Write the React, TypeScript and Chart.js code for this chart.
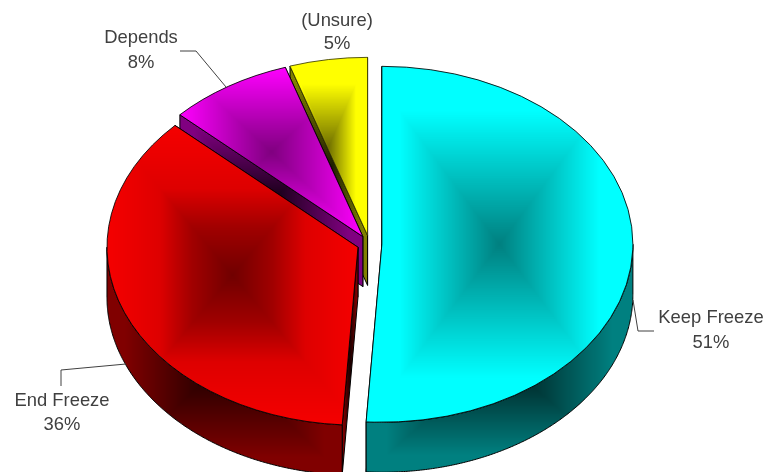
import React, { useEffect, useRef } from "react";
import { Chart, registerables } from "chart.js";

Chart.register(...registerables);

// ---- data ----
const categories = ["Keep Freeze", "End Freeze", "Depends", "(Unsure)"];
const shares = [51, 36, 8, 5];
const sliceColors: number[][] = [
  [0, 255, 255],
  [255, 0, 0],
  [255, 0, 255],
  [255, 255, 0],
];
const borderColors = ["#000000", "#000000", "#000000", "#3c3c00"];
// brightness of each top face from gradient centre (0) to its box edge (1)
const topCurves: number[][][] = [
  [[0, 0.5], [0.75, 1], [1, 1]],
  [[0, 0.44], [0.32, 0.63], [0.58, 0.87], [0.8, 0.92], [1, 0.96]],
  [[0, 0.5], [0.4, 0.7], [1, 1]],
  [[0, 0.44], [0.7, 1], [1, 1]],
];

// ---- styling ----
const W = 765;
const H = 472;
const RADIUS = 251;
const TILT = 0.709;
const DEPTH = 50;
const EXPLODE = 12.4;
const PAD_RIGHT = 26;
const PAD_TOP = 16;
const INK = "#404040";
const FONT = '18.4px "Liberation Sans", Arial, sans-serif';
const labelSpots = [
  { x: 711, y1: 318, y2: 343 },
  { x: 62, y1: 401, y2: 425 },
  { x: 141, y1: 38, y2: 63 },
  { x: 337, y1: 21, y2: 44 },
];
const leaders: number[][][] = [
  [[633, 300], [638, 331], [654, 331]],
  [[126, 364], [61, 370], [61, 386]],
  [[180, 51], [196, 51], [226, 87]],
  [],
];

type Box = { x0: number; y0: number; x1: number; y1: number };

function boxOf(pts: number[][]): Box {
  const xs = pts.map((p) => p[0]);
  const ys = pts.map((p) => p[1]);
  return { x0: Math.min(...xs), y0: Math.min(...ys), x1: Math.max(...xs), y1: Math.max(...ys) };
}

function curveAt(curve: number[][], t: number): number {
  if (t >= 1) return curve[curve.length - 1][1];
  for (let i = 1; i < curve.length; i++) {
    const [a, fa] = curve[i - 1];
    const [b, fb] = curve[i];
    if (t <= b) return fa + ((fb - fa) * (t - a)) / (b - a);
  }
  return curve[curve.length - 1][1];
}

// Rectangular "path gradient": darkest at box centre, base colour at its edge.
function boxPattern(box: Box, color: number[], shade: (t: number) => number): CanvasPattern {
  const m = 3;
  const w = Math.ceil(box.x1 - box.x0) + 2 * m;
  const h = Math.ceil(box.y1 - box.y0) + 2 * m;
  const c = document.createElement("canvas");
  c.width = w;
  c.height = h;
  const g = c.getContext("2d")!;
  const img = g.createImageData(w, h);
  const mx = (box.x0 + box.x1) / 2;
  const my = (box.y0 + box.y1) / 2;
  const hw = Math.max((box.x1 - box.x0) / 2, 1);
  const hh = Math.max((box.y1 - box.y0) / 2, 1);
  const ox = box.x0 - m;
  const oy = box.y0 - m;
  for (let j = 0; j < h; j++) {
    for (let i = 0; i < w; i++) {
      const t = Math.max(Math.abs(i + ox + 0.5 - mx) / hw, Math.abs(j + oy + 0.5 - my) / hh);
      const f = shade(t);
      const k = (j * w + i) * 4;
      img.data[k] = color[0] * f;
      img.data[k + 1] = color[1] * f;
      img.data[k + 2] = color[2] * f;
      img.data[k + 3] = 255;
    }
  }
  g.putImageData(img, 0, 0);
  const p = g.createPattern(c, "no-repeat")!;
  p.setTransform(new DOMMatrix().translate(ox, oy));
  return p;
}

const wallShade = (t: number) => Math.min(1, 0.15 + t);

function sliceAngles(): number[][] {
  const total = shares.reduce((a, b) => a + b, 0);
  let a = -Math.PI / 2;
  return shares.map((v) => {
    const s = a;
    a += (v / total) * Math.PI * 2;
    return [s, a];
  });
}

function topPatterns(cx: number, cy: number): CanvasPattern[] {
  return sliceAngles().map(([a0, a1], i) => {
    const pts: number[][] = [[cx, cy]];
    for (let a = a0; a <= a1 + 1e-6; a += (a1 - a0) / 360) {
      pts.push([cx + RADIUS * Math.cos(a), cy + RADIUS * Math.sin(a)]);
    }
    return boxPattern(boxOf(pts), sliceColors[i], (t) => curveAt(topCurves[i], t));
  });
}

function fillWall(ctx: CanvasRenderingContext2D, pts: number[][], color: number[]) {
  const half = color.map((v) => Math.round(v * 0.5));
  ctx.beginPath();
  pts.forEach((p, i) => (i ? ctx.lineTo(p[0], p[1]) : ctx.moveTo(p[0], p[1])));
  ctx.closePath();
  ctx.fillStyle = boxPattern(boxOf(pts), half, wallShade);
  ctx.fill();
  ctx.lineWidth = 1;
  ctx.strokeStyle = "#000";
  ctx.lineJoin = "round";
  ctx.stroke();
}

const pie3d = {
  id: "pie3d",
  beforeDatasetDraw(chart: any) {
    const ctx: CanvasRenderingContext2D = chart.ctx;
    const arcs = chart.getDatasetMeta(0).data;
    // painter's order: back slices first
    for (let i = arcs.length - 1; i >= 0; i--) {
      const el = arcs[i];
      const { x: cx, y: cy, startAngle: a0, endAngle: a1, outerRadius: r } = el;
      const mid = (a0 + a1) / 2;
      const dx = EXPLODE * Math.cos(mid);
      const dy = EXPLODE * Math.sin(mid);
      const P = (a: number, h: number) => [cx + dx + r * Math.cos(a), cy + TILT * (dy + r * Math.sin(a)) + h];
      const C = (h: number) => [cx + dx, cy + TILT * dy + h];

      // radial walls
      fillWall(ctx, [C(0), P(a1, 0), P(a1, DEPTH), C(DEPTH)], sliceColors[i]);
      fillWall(ctx, [C(0), P(a0, 0), P(a0, DEPTH), C(DEPTH)], sliceColors[i]);
      // rim, front half only
      const from = Math.max(a0, 0);
      const to = Math.min(a1, Math.PI);
      if (to > from) {
        const rim: number[][] = [];
        const n = 240;
        for (let k = 0; k <= n; k++) rim.push(P(from + ((to - from) * k) / n, 0));
        for (let k = n; k >= 0; k--) rim.push(P(from + ((to - from) * k) / n, DEPTH));
        fillWall(ctx, rim, sliceColors[i]);
      }
      // top face: the library's own arc, under a tilt transform
      ctx.save();
      ctx.translate(cx, cy);
      ctx.scale(1, TILT);
      ctx.translate(-cx, -cy);
      ctx.translate(dx, dy);
      el.draw(ctx);
      ctx.restore();
    }
    return false;
  },
  afterDraw(chart: any) {
    const ctx: CanvasRenderingContext2D = chart.ctx;
    ctx.save();
    ctx.strokeStyle = INK;
    ctx.lineWidth = 1;
    leaders.forEach((line) => {
      if (!line.length) return;
      ctx.beginPath();
      line.forEach((p, i) => (i ? ctx.lineTo(p[0], p[1]) : ctx.moveTo(p[0], p[1])));
      ctx.stroke();
    });
    ctx.fillStyle = INK;
    ctx.font = FONT;
    ctx.textAlign = "center";
    ctx.textBaseline = "middle";
    categories.forEach((name, i) => {
      const s = labelSpots[i];
      ctx.fillText(name, s.x, s.y1);
      ctx.fillText(shares[i] + "%", s.x, s.y2);
    });
    ctx.restore();
  },
};

export default function App() {
  const ref = useRef<HTMLCanvasElement>(null);
  useEffect(() => {
    const cx = (W - PAD_RIGHT) / 2;
    const cy = (H + PAD_TOP) / 2;
    const chart = new Chart(ref.current!, {
      type: "pie",
      data: {
        labels: categories,
        datasets: [
          {
            data: shares,
            backgroundColor: topPatterns(cx, cy) as any,
            borderColor: borderColors,
            borderWidth: 1,
          },
        ],
      },
      options: {
        responsive: false,
        animation: false,
        events: [],
        radius: RADIUS,
        layout: { padding: { right: PAD_RIGHT, top: PAD_TOP } },
        plugins: { legend: { display: false }, tooltip: { enabled: false } },
      } as any,
      plugins: [pie3d as any],
    });
    return () => chart.destroy();
  }, []);
  return (
    <div style={{ position: "absolute", left: 0, top: 0, width: W, height: H, background: "#fff" }}>
      <canvas ref={ref} width={W} height={H} style={{ display: "block" }} />
    </div>
  );
}
